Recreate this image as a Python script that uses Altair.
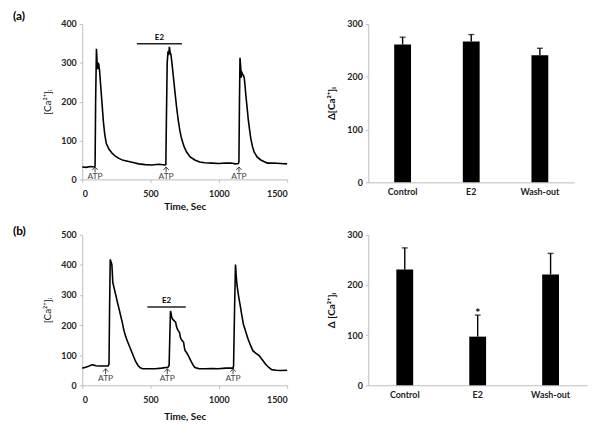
import altair as alt
import pandas as pd

FONT = "Lato"

# ---------------- data: panel (a) trace ----------------
time_a = [0, 30, 60, 90, 94, 98, 104, 109, 113, 117, 121, 127, 135, 145, 155, 165, 176, 195, 220, 245,
          268, 300, 341, 380, 413, 460, 510, 560, 606, 612, 616, 622, 628, 633, 638, 642, 650, 659, 669,
          679, 691, 703, 715, 727, 745, 763, 790, 824, 860, 896, 950, 1000, 1050, 1089, 1120, 1143, 1147,
          1151, 1155, 1160, 1164, 1169, 1174, 1180, 1186, 1192, 1198, 1207, 1215, 1225, 1234, 1246, 1258,
          1280, 1307, 1330, 1355, 1400, 1450, 1500]
ca_a = [32, 31, 33, 32, 35, 200, 336, 300, 284, 300, 296, 280, 241, 195, 148, 115, 93, 78, 67, 59,
        54, 49, 46, 43, 40, 38, 37, 39, 37, 38, 150, 300, 330, 320, 341, 330, 320, 292, 258,
        224, 185, 152, 125, 105, 85, 71, 58, 50, 45, 43, 42, 41, 42, 42, 40, 41, 45,
        200, 313, 290, 262, 275, 271, 268, 262, 240, 216, 185, 156, 128, 105, 85, 71,
        58, 50, 46, 42, 42, 41, 40]

# ---------------- data: panel (b) trace ----------------
time_b = [0, 25, 51, 70, 85, 100, 120, 150, 189, 196, 200, 205, 211, 217, 224, 235, 247, 258, 270, 281,
          293, 304, 316, 328, 339, 356, 373, 390, 408, 425, 442, 480, 535, 580, 627, 636, 641, 646, 650,
          656, 661, 672, 684, 690, 696, 705, 712, 718, 723, 730, 742, 748, 753, 765, 776, 788, 800, 812,
          823, 840, 857, 900, 950, 995, 1050, 1104, 1108, 1115, 1122, 1128, 1134, 1145, 1157, 1168, 1180,
          1197, 1214, 1230, 1249, 1272, 1295, 1318, 1341, 1364, 1387, 1420, 1456, 1500]
ca_b = [57, 60, 64, 68, 67, 65, 64, 64, 64, 70, 250, 418, 410, 401, 341, 320, 297, 275, 253, 232,
        209, 185, 165, 150, 137, 118, 99, 80, 66, 58, 55, 55, 55, 57, 60, 66, 160, 247, 240,
        225, 220, 215, 209, 195, 187, 180, 176, 160, 154, 150, 143, 125, 115, 108, 99, 88, 77, 67,
        60, 57, 55, 55, 56, 55, 57, 57, 65, 250, 401, 360, 330, 295, 264, 233, 203,
        178, 154, 135, 115, 106, 99, 85, 71, 60, 52, 50, 49, 50]

atp_a = [94, 614, 1147]
atp_b = [171, 623, 1104]
e2_a = [400, 730, 349]   # start, end, level
e2_b = [477, 758, 260]

# ---------------- data: bar panels ----------------
groups = ["Control", "E2", "Wash-out"]
mean_a = [261, 267, 241]
err_a = [14, 13, 13]
mean_b = [231, 97, 221]
err_b = [43, 43, 42]

AX = dict(labelFont=FONT, titleFont=FONT, labelFontSize=9, labelColor="#222",
          domainColor="#bdbdbd", tickColor="#bdbdbd", grid=False, labelOverlap=False,
          titleFontSize=10, titleColor="#111")

ARROW = "M-1,0.1L0,-1L1,0.1M0,-1L0,1"


def trace_chart(t, v, atp, e2, ymax, h, label, label_y, arrow_v, atp_v, xtitle_pad):
    df = pd.DataFrame({"t": t, "v": v})
    xs = alt.Scale(domain=[0, 1500], nice=False)
    ys = alt.Scale(domain=[0, ymax], nice=False)
    xax = alt.Axis(values=[0, 500, 1000, 1500], format="d", title="Time, Sec", titleFontWeight="bold",
                   labelFontWeight="bold", tickSize=3, labelPadding=7, titlePadding=xtitle_pad, **AX)
    yax = alt.Axis(values=list(range(0, ymax + 1, 100)), format="d", title="[Ca²⁺]ᵢ",
                   titleFontWeight="normal", labelFontWeight="bold", tickSize=3, labelPadding=3,
                   titlePadding=8, **AX)
    line = alt.Chart(df).mark_line(color="black", strokeWidth=1.6).encode(
        x=alt.X("t:Q", scale=xs, axis=xax), y=alt.Y("v:Q", scale=ys, axis=yax))
    adf = pd.DataFrame({"t": atp, "a": [arrow_v] * 3, "l": [atp_v] * 3})
    arrow = alt.Chart(adf).mark_point(shape=ARROW, size=30, color="#333", strokeWidth=0.9,
                                      filled=False, opacity=1).encode(
        x=alt.X("t:Q", scale=xs, axis=xax), y=alt.Y("a:Q", scale=ys, axis=yax))
    atpt = alt.Chart(adf).mark_text(text="ATP", font=FONT, fontSize=8.5, color="#444",
                                    baseline="middle").encode(
        x=alt.X("t:Q", scale=xs, axis=xax), y=alt.Y("l:Q", scale=ys, axis=yax))
    edf = pd.DataFrame({"s": [e2[0]], "e": [e2[1]], "v": [e2[2]], "m": [(e2[0] + e2[1]) / 2]})
    ebar = alt.Chart(edf).mark_rule(color="#222", strokeWidth=1.6).encode(
        x=alt.X("s:Q", scale=xs, axis=xax), x2="e:Q", y=alt.Y("v:Q", scale=ys, axis=yax))
    etxt = alt.Chart(edf).mark_text(text="E2", font=FONT, fontSize=8, fontWeight="bold",
                                    baseline="bottom", dy=-2).encode(
        x=alt.X("m:Q", scale=xs, axis=xax), y=alt.Y("v:Q", scale=ys, axis=yax))
    plab = alt.Chart(pd.DataFrame({"l": [label]})).mark_text(
        font=FONT, fontSize=12, fontWeight="bold", align="left", baseline="top").encode(
        text="l:N", x=alt.value(-70), y=alt.value(label_y))
    return alt.layer(line, arrow, atpt, ebar, etxt, plab).properties(width=207, height=h)


def bar_chart(means, errs, w, h, ytitle, star=False):
    df = pd.DataFrame({"g": groups, "m": means, "top": [a + b for a, b in zip(means, errs)]})
    xs = alt.Scale(domain=groups, paddingInner=0.0, paddingOuter=0.0)
    ys = alt.Scale(domain=[0, 300], nice=False)
    xax = alt.Axis(title=None, labelAngle=0, ticks=False, labelFontWeight="bold", labelPadding=5, **AX)
    yax = alt.Axis(values=[0, 100, 200, 300], format="d", title=ytitle, titleFontWeight="bold",
                   labelFontWeight="bold", tickSize=3, labelPadding=3, titlePadding=10, **AX)
    x = alt.X("g:N", scale=xs, axis=xax, sort=groups)
    bars = alt.Chart(df).mark_bar(color="black", size=17).encode(
        x=x, y=alt.Y("m:Q", scale=ys, axis=yax))
    rule = alt.Chart(df).mark_rule(color="black", strokeWidth=1.4).encode(
        x=x, y=alt.Y("m:Q", scale=ys, axis=yax), y2="top:Q")
    cap = alt.Chart(df).mark_tick(color="black", size=6, thickness=1.4).encode(
        x=x, y=alt.Y("top:Q", scale=ys, axis=yax))
    layers = [bars, rule, cap]
    if star:
        sdf = df[df["g"] == "E2"]
        layers.append(alt.Chart(sdf).mark_text(text="*", font=FONT, fontSize=12, fontWeight="bold",
                                               baseline="bottom", dy=5).encode(
            x=x, y=alt.Y("top:Q", scale=ys, axis=yax)))
    return alt.layer(*layers).properties(width=w, height=h)


row_a = alt.hconcat(
    trace_chart(time_a, ca_a, atp_a, e2_a, 400, 157, "(a)", -13, 25, 8, 3),
    bar_chart(mean_a, err_a, 208, 160, "Δ[Ca²⁺]ᵢ"),
    spacing=36)
row_b = alt.hconcat(
    trace_chart(time_b, ca_b, atp_b, e2_b, 500, 152, "(b)", -9, 46, 25, 8),
    bar_chart(mean_b, err_b, 221, 152, "Δ [Ca²⁺]ᵢ", star=True),
    spacing=36)

chart = alt.vconcat(row_a, row_b, spacing=14).configure(
    background="white", font=FONT,
    view=alt.ViewConfig(strokeWidth=0),
).properties(padding={"left": 5, "top": 0, "right": 5, "bottom": 5})

chart.save("out.html", embed_options={"renderer": "svg", "actions": False})
